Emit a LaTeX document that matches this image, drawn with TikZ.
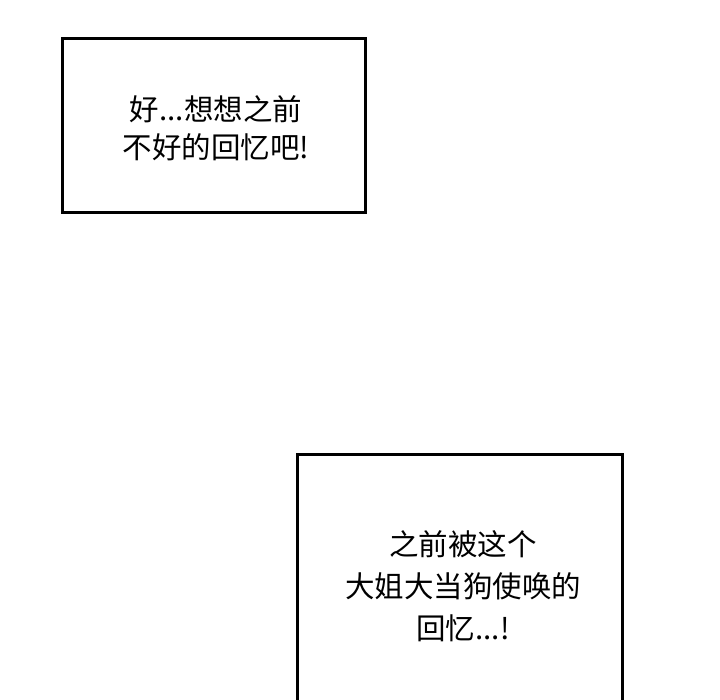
\documentclass[tikz,border=0pt]{standalone}
\usepackage{fontspec}
\newfontfamily\cjk{Noto Sans CJK SC}
\begin{document}
\begin{tikzpicture}[x=1pt,y=1pt,
  panel/.style={draw=black,line width=3pt,fill=white},
  caption/.style={font=\cjk\fontsize{29.5}{38}\selectfont,align=center,text=black}]
\useasboundingbox (0,0) rectangle (720,700);
\clip (0,0) rectangle (720,700);
\fill[white] (0,0) rectangle (720,700);
\draw[panel] (62,661) rectangle (365,487);
\node[caption] (t1) at (216,572) {好...想想之前\\不好的回忆吧!};
\draw[panel] (297,245) rectangle (622,-20);
\node[caption,font=\cjk\fontsize{29.5}{42}\selectfont] (t2) at (463,114) {之前被这个\\大姐大当狗使唤的\\回忆...!};
\end{tikzpicture}
\end{document}
